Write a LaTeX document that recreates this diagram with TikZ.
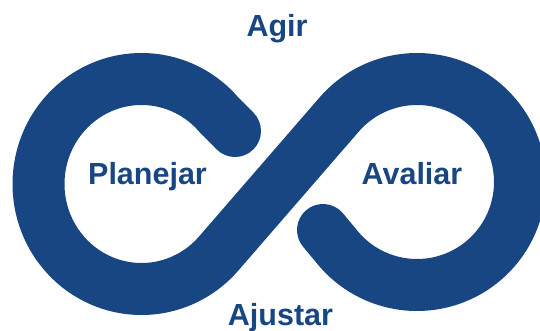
\documentclass[tikz,border=0pt]{standalone}
\usepackage{fontspec}
\setmainfont{Liberation Sans}
\usepackage{tikz}
\usetikzlibrary{calc}
\definecolor{cycleblue}{RGB}{24,70,131}

\begin{document}
\begin{tikzpicture}[
    x=1pt,y=-1pt,
    lbl/.style={anchor=base,inner sep=0pt,text=cycleblue,font=\fontsize{30.5}{36}\selectfont\bfseries},
    band/.style={draw=cycleblue,line width=52pt,line cap=round,line join=round}
  ]
  \useasboundingbox (0,0) rectangle (540,331);
  \coordinate (lc) at (141.5,184);
  \coordinate (rc) at (417,182);
  \coordinate (e1) at (235,131);
  \coordinate (e2) at (323,230);

  \draw[band] (e1) -- ($(lc)+(-41:103 and 105)$)
    arc[start angle=-41,end angle=-319,x radius=103,y radius=105]
    -- ($(rc)+(-139:103)$)
    arc[start angle=-139,end angle=139,radius=103] -- (e2);

  \node[lbl] (agir) at (277,37) {Agir};
  \node[lbl] (planejar) at (147.5,184) {Planejar};
  \node[lbl] (avaliar) at (412,184) {Avaliar};
  \node[lbl] (ajustar) at (280.5,325) {Ajustar};
\end{tikzpicture}
\end{document}
